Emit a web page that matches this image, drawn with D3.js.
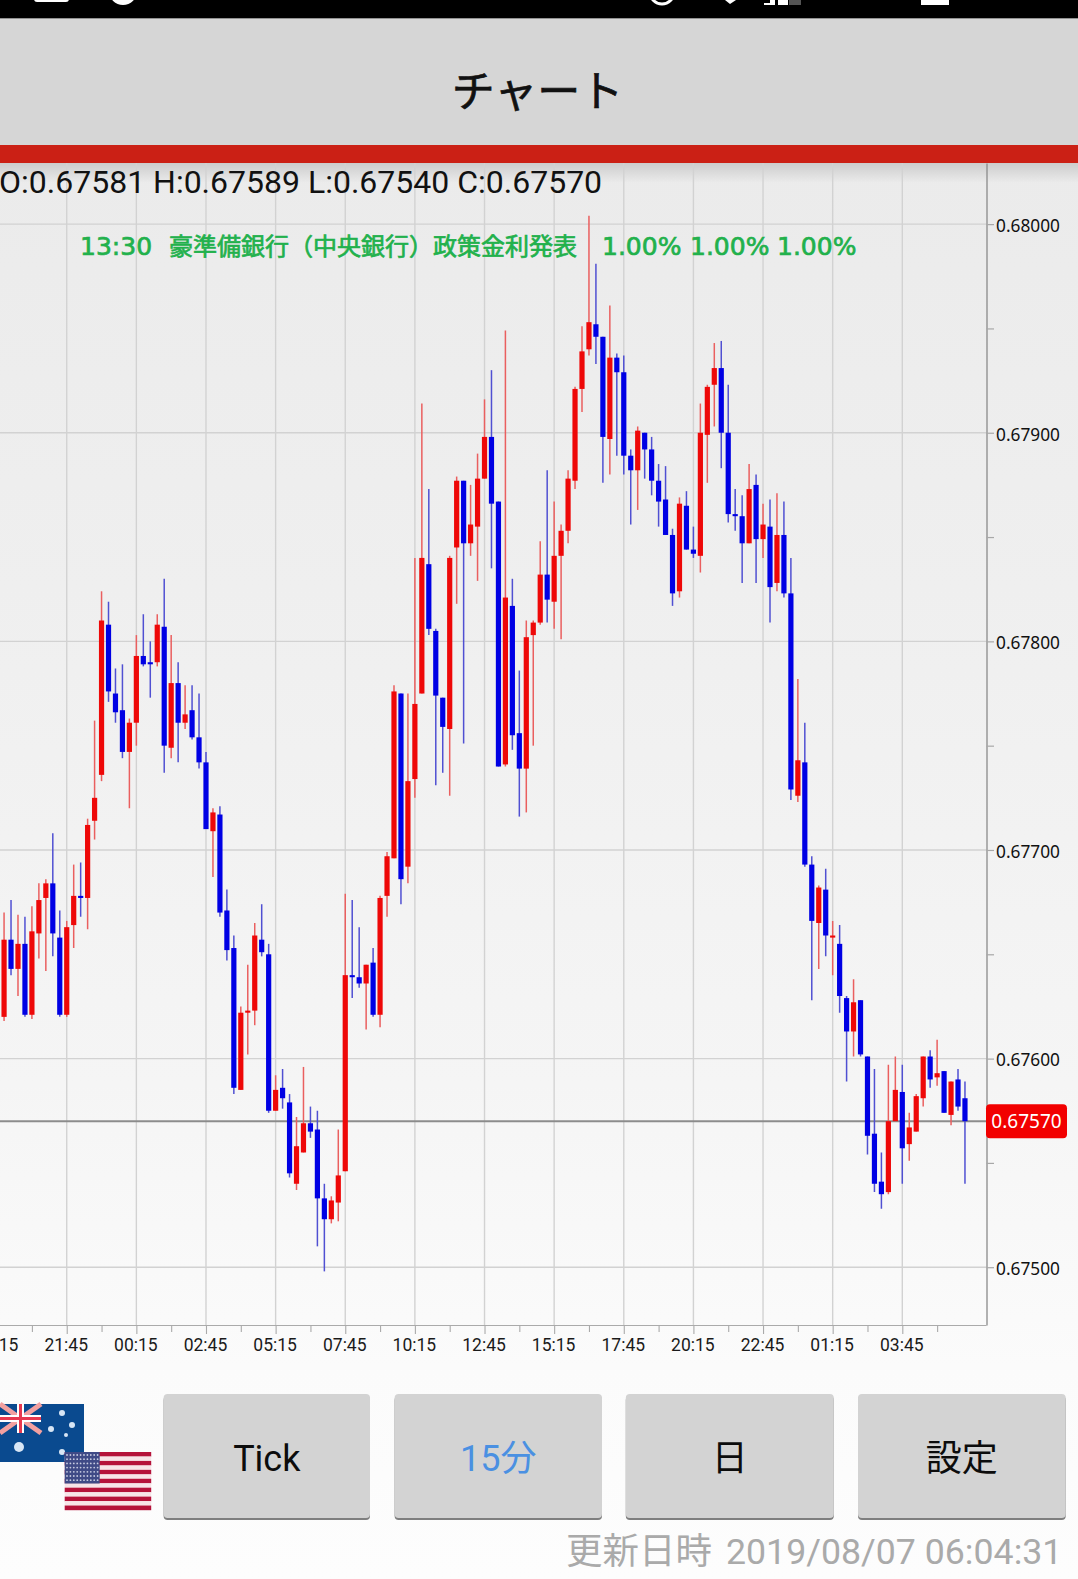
<!DOCTYPE html>
<html>
<head>
<meta charset="utf-8">
<script src="https://cdn.jsdelivr.net/npm/d3@7"></script>
<style>
  html, body { margin: 0; padding: 0; background: #fcfcfc; }
  svg { display: block; }
</style>
</head>
<body>
<svg id="stage" width="1078" height="1579"></svg>
<script>
// 15 minute candles, prices in units of 0.00001. Index 0 is the 19:15 bar.
const open = [
  67622,67620,67657,67643,67655,67621,67660,67677,67684,67658,
  67621,67664,67678,67677,67714,67736,67808,67775,67767,67747,
  67761,67793,67790,67790,67807,67749,67780,67761,67767,67754,
  67742,67709,67717,67671,67653,67585,67622,67623,67657,67650,
  67575,67586,67579,67540,67555,67569,67566,67533,67523,67531,
  67546,67640,67639,67636,67646,67621,67678,67696,67775,67692,
  67734,67775,67837,67805,67773,67758,67845,67877,67847,67855,
  67878,67898,67867,67741,67817,67756,67739,67803,67809,67832,
  67819,67841,67853,67877,67921,67940,67952,67946,67897,67936,
  67929,67889,67882,67900,67892,67877,67868,67851,67824,67865,
  67844,67841,67899,67923,67931,67900,67861,67860,67847,67875,
  67849,67855,67828,67851,67823,67726,67742,67693,67665,67681,
  67658,67655,67629,67613,67628,67601,67564,67541,67536,67570,
  67584,67559,67565,67581,67601,67591,67594,67573,67590,67581
];
const high = [
  67650,67670,67676,67669,67668,67673,67684,67686,67708,67671,
  67666,67693,67694,67715,67762,67824,67819,67787,67789,67763,
  67803,67813,67800,67813,67830,67803,67790,67779,67779,67775,
  67747,67720,67721,67681,67659,67625,67645,67665,67674,67655,
  67592,67595,67583,67572,67596,67577,67575,67540,67534,67566,
  67679,67676,67663,67645,67653,67678,67699,67779,67775,67775,
  67840,67914,67873,67806,67773,67841,67879,67877,67875,67890,
  67916,67930,67867,67949,67830,67786,67810,67810,67848,67882,
  67867,67856,67882,67922,67951,68004,67981,67946,67961,67938,
  67937,67892,67903,67900,67898,67885,67884,67854,67869,67872,
  67855,67914,67923,67943,67944,67923,67873,67870,67885,67880,
  67866,67868,67871,67867,67840,67782,67761,67697,67683,67691,
  67666,67664,67630,67638,67628,67601,67595,67555,67597,67601,
  67597,67574,67583,67601,67604,67609,67594,67589,67595,67589
];
const low = [
  67620,67618,67640,67630,67620,67619,67648,67642,67649,67620,
  67620,67653,67668,67662,67705,67733,67771,67761,67744,67720,
  67750,67788,67773,67788,67737,67744,67742,67758,67753,67739,
  67710,67687,67668,67647,67583,67585,67602,67616,67649,67574,
  67575,67576,67543,67537,67555,67562,67510,67498,67521,67522,
  67546,67629,67634,67614,67620,67615,67668,67696,67674,67684,
  67725,67775,67803,67731,67737,67726,67818,67751,67841,67829,
  67878,67835,67740,67740,67748,67716,67718,67750,67808,67809,
  67806,67801,67847,67873,67910,67937,67933,67876,67880,67889,
  67880,67856,67863,67878,67870,67855,67851,67817,67821,67844,
  67840,67833,67876,67903,67883,67857,67853,67828,67847,67828,
  67840,67809,67824,67821,67724,67723,67692,67628,67643,67649,
  67640,67622,67589,67601,67601,67554,67536,67528,67535,67570,
  67540,67551,67565,67577,67586,67587,67574,67568,67575,67540
];
const close = [
  67648,67657,67643,67655,67621,67661,67676,67684,67660,67621,
  67663,67678,67677,67712,67725,67810,67776,67766,67747,67761,
  67793,67789,67789,67808,67750,67780,67761,67765,67754,67742,
  67710,67718,67670,67652,67586,67622,67623,67659,67651,67575,
  67585,67581,67545,67558,67569,67565,67533,67523,67532,67544,
  67640,67639,67636,67645,67621,67677,67697,67776,67686,67733,
  67770,67840,67806,67774,67759,67840,67877,67847,67856,67878,
  67898,67866,67740,67821,67755,67739,67802,67809,67832,67820,
  67841,67853,67878,67921,67939,67953,67946,67898,67936,67929,
  67889,67882,67901,67892,67877,67867,67851,67823,67866,67844,
  67842,67900,67922,67931,67900,67861,67860,67847,67873,67849,
  67856,67826,67851,67823,67729,67743,67693,67666,67682,67659,
  67659,67630,67613,67627,67602,67563,67540,67535,67570,67585,
  67557,67567,67582,67601,67590,67593,67574,67589,67577,67570
];

const timeLabels = ["19:15","21:45","00:15","02:45","05:15","07:45","10:15","12:45","15:15","17:45","20:15","22:45","01:15","03:45"];
const priceLabels = [67500,67600,67700,67800,67900,68000];
const priceMinor = [67550,67650,67750,67850,67950];
const lastPrice = 67570;
const ohlcText = "O:0.67581 H:0.67589 L:0.67540 C:0.67570";
const newsParts = ["13:30","豪準備銀行（中央銀行）政策金利発表","1.00%","1.00%","1.00%"];
const newsX = [80,169,602,690,777];
const buttons = ["Tick","15分","日","設定"];
const buttonX = [[163.6,370],[394.6,602],[625.8,833.8],[858,1065.7]];

const W = 1078, H = 1579;
const plotTop = 163, plotBottom = 1325, plotRight = 986.5;
const UI = "Roboto, 'Noto Sans CJK JP', sans-serif";
const JP = "'Noto Sans CJK JP', sans-serif";

const svg = d3.select("#stage");
const defs = svg.append("defs");

const vGrad = (id, stops) => defs.append("linearGradient")
  .attr("id", id).attr("x1", 0).attr("y1", 0).attr("x2", 0).attr("y2", 1)
  .selectAll("stop").data(stops).join("stop")
  .attr("offset", d => d[0]).attr("stop-color", d => d[1]).attr("stop-opacity", d => d[2] ?? 1);
vGrad("page-bg", [["0%","#ebebeb"],["30%","#efefef"],["65%","#f5f5f5"],["85%","#fbfbfb"],["100%","#fdfdfd"]]);
vGrad("band-shadow", [["0%","#000",0.13],["100%","#000",0]]);
defs.append("clipPath").attr("id", "plot-clip").append("rect")
  .attr("x", 0).attr("y", plotTop).attr("width", plotRight).attr("height", plotBottom - plotTop);

// Page background, title bar
svg.append("rect").attr("y", plotTop).attr("width", W).attr("height", H - plotTop).attr("fill", "url(#page-bg)");
svg.append("rect").attr("width", W).attr("height", 18.6).attr("fill", "#000");
svg.append("rect").attr("y", 18.6).attr("width", W).attr("height", 126.4).attr("fill", "#d6d6d6");
svg.append("rect").attr("y", 145).attr("width", W).attr("height", 18).attr("fill", "#cb2015");
svg.append("rect").attr("y", 163).attr("width", W).attr("height", 20).attr("fill", "url(#band-shadow)");
svg.append("text").attr("x", 537.5).attr("y", 107).attr("text-anchor", "middle")
  .attr("font-family", JP).attr("font-size", 43).attr("fill", "#111")
  .attr("stroke", "#111").attr("stroke-width", 0.7).text("チャート");

// Clipped status bar icons
const status = svg.append("g").attr("fill", "#fff");
status.append("rect").attr("x", 34).attr("y", -8).attr("width", 35).attr("height", 10).attr("rx", 3);
status.append("circle").attr("cx", 123).attr("cy", -9).attr("r", 14);
status.append("circle").attr("cx", 662).attr("cy", -8).attr("r", 12).attr("fill", "none").attr("stroke", "#fff").attr("stroke-width", 3);
status.append("path").attr("d", "M725,0H736L730,4Z");
status.append("path").attr("d", "M764,5V3H770V0H775V5ZM778,5V0H788V5Z");
status.append("rect").attr("x", 789).attr("y", 0).attr("width", 12).attr("height", 5).attr("fill", "#555");
status.append("rect").attr("x", 921).attr("y", -5).attr("width", 28).attr("height", 10);

// Scales
const x = d3.scaleLinear().domain([0, 130]).range([-2.9, 902.3]);
const y = d3.scaleLinear().domain([67472.3, 68029.3]).range([plotBottom, plotTop]);
const xMajor = timeLabels.map((d, i) => i * 10);
const xMinor = xMajor.map(d => d + 5);

const plot = svg.append("g").attr("clip-path", "url(#plot-clip)");

// Grid
plot.append("g").selectAll("line").data(xMajor).join("line")
  .attr("x1", d => x(d)).attr("x2", d => x(d))
  .attr("y1", plotTop).attr("y2", plotBottom)
  .attr("stroke", "#d2d2d2").attr("stroke-width", 1.4);
plot.append("g").selectAll("line").data(priceLabels).join("line")
  .attr("x1", 0).attr("x2", plotRight)
  .attr("y1", d => y(d)).attr("y2", d => y(d))
  .attr("stroke", "#d2d2d2").attr("stroke-width", 1.4);

// Current price line
plot.append("line").attr("x1", 0).attr("x2", plotRight)
  .attr("y1", y(lastPrice)).attr("y2", y(lastPrice))
  .attr("stroke", "#8c8c8c").attr("stroke-width", 1.9);

// Candles
const BODY_W = 5.2;
const candles = plot.append("g").selectAll("g").data(open.map((o, i) => i)).join("g");
candles.append("line")
  .attr("x1", i => x(i)).attr("x2", i => x(i))
  .attr("y1", i => y(high[i])).attr("y2", i => y(low[i]))
  .attr("stroke", i => close[i] > open[i] ? "#ea5f5f" : "#5050d2")
  .attr("stroke-width", 1.5);
candles.append("rect")
  .attr("x", i => x(i) - BODY_W / 2).attr("width", BODY_W)
  .attr("y", i => y(Math.max(open[i], close[i])))
  .attr("height", i => Math.abs(y(open[i]) - y(close[i])))
  .attr("fill", i => close[i] > open[i] ? "#ee0808" : "#0000e4");

// Axes
const axisColor = "#8a8a8a";
const yAxis = svg.append("g").attr("transform", `translate(${plotRight},0)`)
  .call(d3.axisRight(y).tickValues(priceLabels.concat(priceMinor)).tickSize(7.5).tickSizeOuter(0).tickPadding(2.5)
    .tickFormat(d => priceLabels.includes(d) ? (d / 1e5).toFixed(5) : ""));
yAxis.select(".domain").attr("stroke", axisColor).attr("stroke-width", 1.3);
yAxis.selectAll(".tick line").attr("stroke", "#a8a8a8").attr("stroke-width", 1.2);
yAxis.selectAll(".tick text").attr("dy", "0.42em").attr("x", 9.5)
  .attr("font-family", "'Noto Sans', sans-serif").attr("font-size", 17.3).attr("fill", "#111");

const xAxis = svg.append("g").attr("transform", `translate(0,${plotBottom})`)
  .call(d3.axisBottom(x).tickValues(xMajor.concat(xMinor)).tickSize(9).tickSizeOuter(0).tickPadding(5)
    .tickFormat(d => d % 10 === 0 ? timeLabels[d / 10] : ""));
xAxis.select(".domain").attr("d", `M0,0.5H${plotRight}`).attr("stroke", "#aaa").attr("stroke-width", 1.2);
xAxis.selectAll(".tick line")
  .attr("y2", d => d % 10 === 0 ? 9 : 7).attr("stroke", "#aaa").attr("stroke-width", 1.1);
xAxis.selectAll(".tick text").attr("dx", -1)
  .attr("font-family", UI).attr("font-size", 17.5).attr("fill", "#1a1a1a");

// Last price tag
svg.append("rect").attr("x", 986).attr("y", y(lastPrice) - 17).attr("width", 81).attr("height", 34)
  .attr("rx", 4).attr("fill", "#f20000");
svg.append("text").attr("x", 1026.5).attr("y", y(lastPrice) + 6.7).attr("text-anchor", "middle")
  .attr("font-family", "'Noto Sans', sans-serif").attr("font-size", 19).attr("fill", "#fff")
  .text((lastPrice / 1e5).toFixed(5));

// OHLC readout and news line
svg.append("text").attr("x", -1).attr("y", 193)
  .attr("font-family", UI).attr("font-size", 32).attr("fill", "#111").text(ohlcText);
svg.append("g").selectAll("text").data(newsParts).join("text")
  .attr("x", (d, i) => newsX[i]).attr("y", 255)
  .attr("font-family", (d, i) => i === 1 ? JP : "'DejaVu Sans', sans-serif")
  .attr("font-size", (d, i) => i === 1 ? 24 : 25)
  .attr("fill", "#22b14c").attr("stroke", "#22b14c").attr("stroke-width", 0.7)
  .text(d => d);

// Flags
const au = svg.append("g");
au.append("rect").attr("x", 0).attr("y", 1404).attr("width", 84).attr("height", 58).attr("fill", "#0a4a8f");
au.append("g").attr("stroke", "#f2a0a0").attr("stroke-width", 5)
  .selectAll("line").data([[0,1404,41,1433],[41,1404,0,1433]]).join("line")
  .attr("x1", d => d[0]).attr("y1", d => d[1]).attr("x2", d => d[2]).attr("y2", d => d[3]);
au.append("rect").attr("x", 0).attr("y", 1415).attr("width", 41).attr("height", 7).attr("fill", "#fff");
au.append("rect").attr("x", 17).attr("y", 1404).attr("width", 7).attr("height", 29).attr("fill", "#fff");
au.append("rect").attr("x", 0).attr("y", 1417).attr("width", 41).attr("height", 3).attr("fill", "#e8384f");
au.append("rect").attr("x", 19).attr("y", 1404).attr("width", 3).attr("height", 29).attr("fill", "#e8384f");
au.append("g").attr("fill", "#d8e6f5")
  .selectAll("circle").data([[62,1413,3],[51,1429,3],[72,1425,3],[66,1435,2],[62,1452,3],[19,1447,5]]).join("circle")
  .attr("cx", d => d[0]).attr("cy", d => d[1]).attr("r", d => d[2]);

const us = svg.append("g");
const stripes = d3.range(13);
us.append("g").selectAll("rect").data(stripes).join("rect")
  .attr("x", 64.7).attr("width", 86.5)
  .attr("y", d => 1452 + d * 58 / 13).attr("height", 58 / 13 + 0.2)
  .attr("fill", d => d % 2 === 0 ? "#b5123a" : "#f7e4e8");
us.append("rect").attr("x", 64.7).attr("y", 1452).attr("width", 35).attr("height", 31.5).attr("fill", "#3f4a86");
us.append("g").attr("fill", "#c7cbe0")
  .selectAll("circle").data(d3.cross(d3.range(10), d3.range(7))).join("circle")
  .attr("cx", d => 67 + d[0] * 3.4).attr("cy", d => 1455 + d[1] * 4.2).attr("r", 0.9);

// Buttons
const btn = svg.append("g").selectAll("g").data(buttons).join("g");
btn.append("rect")
  .attr("x", (d, i) => buttonX[i][0]).attr("y", 1396)
  .attr("width", (d, i) => buttonX[i][1] - buttonX[i][0]).attr("height", 124)
  .attr("rx", 4).attr("fill", "#7f7f7f");
btn.append("rect")
  .attr("x", (d, i) => buttonX[i][0]).attr("y", 1394)
  .attr("width", (d, i) => buttonX[i][1] - buttonX[i][0]).attr("height", 124)
  .attr("rx", 4).attr("fill", "#d3d3d3");
btn.append("text")
  .attr("x", (d, i) => (buttonX[i][0] + buttonX[i][1]) / 2).attr("y", 1471)
  .attr("text-anchor", "middle")
  .attr("font-family", UI).attr("font-size", 36)
  .attr("fill", d => d === "15分" ? "#4a90e2" : "#0c0c0c")
  .text(d => d);

// Updated time
svg.append("text").attr("x", 566).attr("y", 1564)
  .attr("font-family", JP).attr("font-size", 36.5).attr("fill", "#aaaaaa").text("更新日時");
svg.append("text").attr("x", 726).attr("y", 1564)
  .attr("font-family", UI).attr("font-size", 35.7).attr("fill", "#aaaaaa").text("2019/08/07 06:04:31");
</script>
</body>
</html>
